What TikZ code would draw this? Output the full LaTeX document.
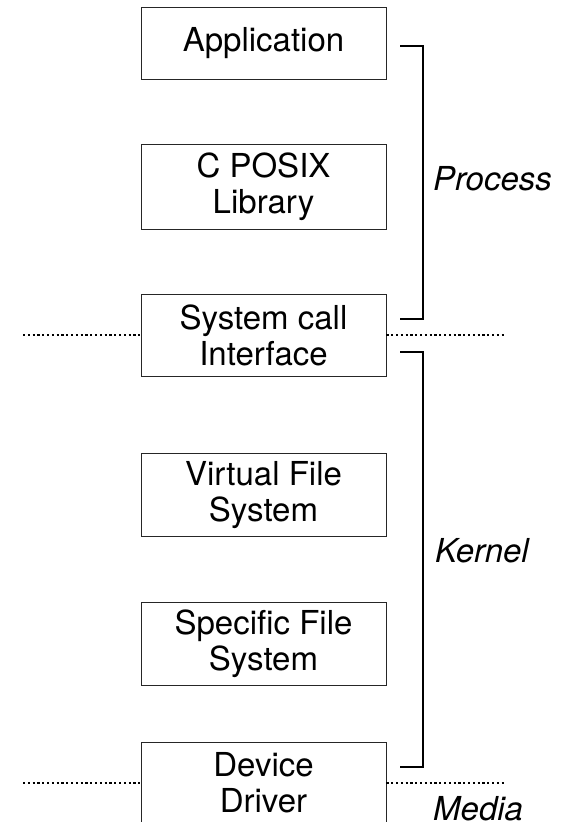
\documentclass[tikz,border=0pt]{standalone}
\usepackage{fontspec}
\setmainfont{TeX Gyre Heros}
\begin{document}
\begin{tikzpicture}[x=1pt,y=-1pt,
  layer/.style={draw=black!85, line width=0.9pt, minimum width=245pt, inner sep=0pt, align=center, font=\fontsize{33}{36}\selectfont},
  brk/.style={line width=1.4pt, black},
  sep/.style={line width=1.3pt, dash pattern=on 2.2pt off 2.6pt},
  zone/.style={font=\fontsize{33}{36}\selectfont\itshape, anchor=base west, inner sep=0pt}]
\useasboundingbox (0,0) rectangle (567,822);
\node[layer, minimum height=72pt] (app) at (263.5,43) {Application};
\node[layer, minimum height=85pt] (lib) at (263.5,186.5) {C POSIX\\Library};
\node[layer, minimum height=82pt] (sci) at (263.5,335) {System call\\Interface};
\node[layer, minimum height=83pt] (vfs) at (263.5,495) {Virtual File\\System};
\node[layer, minimum height=83pt] (sfs) at (263.5,644) {Specific File\\System};
\node[layer, minimum height=82pt] (drv) at (263.5,783) {Device\\Driver};
% separators
\coordinate (s1l) at (23,335);
\coordinate (s1r) at (505,335);
\coordinate (s2l) at (23,783);
\coordinate (s2r) at (505,783);
\draw[sep] (s1l) -- (s1l -| sci.west);
\draw[sep] (s1l -| sci.east) -- (s1r);
\draw[sep] (s2l) -- (s2l -| drv.west);
\draw[sep] (s2l -| drv.east) -- (s2r);
% brackets
\coordinate (p1) at (400,46);
\coordinate (p2) at (400,319);
\coordinate (k1) at (400,352);
\coordinate (k2) at (400,767);
\draw[brk] (p1) -- ++(23,0) |- (p2);
\draw[brk] (k1) -- ++(23,0) |- (k2);
% zone labels
\node[zone] (proc) at (433,190) {Process};
\node[zone] (kern) at (435,562) {Kernel};
\node[zone] (media) at (433,820) {Media};
\end{tikzpicture}
\end{document}
